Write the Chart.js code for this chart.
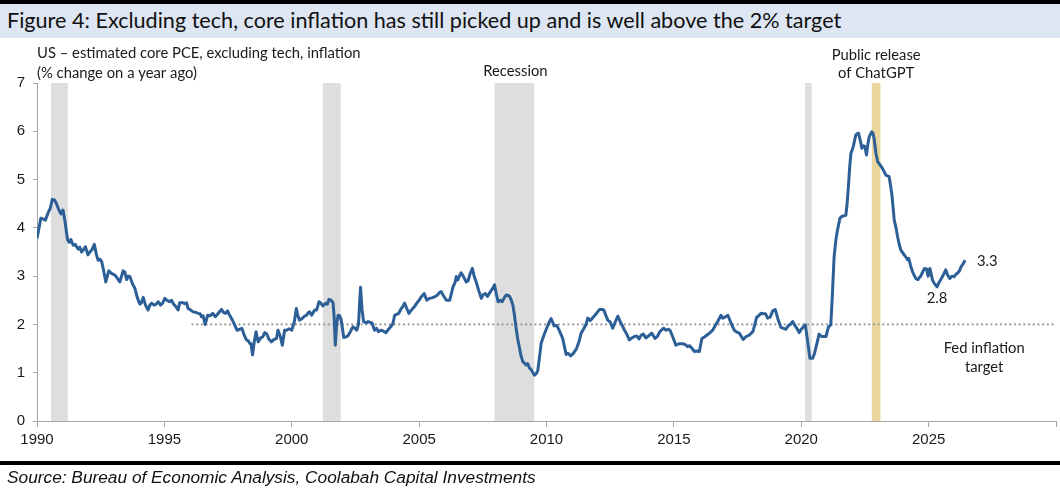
<!DOCTYPE html>
<html>
<head>
<meta charset="utf-8">
<script src="https://cdn.jsdelivr.net/npm/chart.js@4.4.1/dist/chart.umd.min.js"></script>
<style>
  html, body { margin: 0; padding: 0; background: #ffffff; }
  #wrap { position: relative; width: 1060px; height: 493px; overflow: hidden; background: #fff; }
  #topline { position: absolute; left: 0; top: 0; width: 1060px; height: 4px; background: #000; }
  #band { position: absolute; left: 0; top: 4px; width: 1060px; height: 34px; background: #dde6f2; }
  #title { position: absolute; left: 7px; top: 7px; font-family: Lato, "Open Sans", sans-serif; font-size: 21.6px; color: #111; white-space: nowrap; }
  #botline { position: absolute; left: 0; top: 461px; width: 1060px; height: 4px; background: #000; }
  #source { position: absolute; left: 7px; top: 467px; font-family: "Liberation Sans Narrow", "Liberation Sans", sans-serif; font-style: italic; font-size: 17.3px; color: #111; white-space: nowrap; }
  canvas { position: absolute; left: 0; top: 0; }
</style>
</head>
<body>
<div id="wrap">
  <div id="topline"></div>
  <div id="band"></div>
  <div id="title">Figure 4: Excluding tech, core inflation has still picked up and is well above the 2% target</div>
  <canvas id="c" width="1060" height="493"></canvas>
  <div id="botline"></div>
  <div id="source">Source: Bureau of Economic Analysis, Coolabah Capital Investments</div>
</div>
<script>
// ---------------- DATA ----------------
const dates = [
1990.00,1990.08,1990.15,1990.25,1990.33,1990.45,1990.52,1990.60,1990.68,1990.75,1990.86,1990.94,
1991.02,1991.10,1991.20,1991.27,1991.33,1991.42,1991.50,1991.55,1991.62,1991.68,1991.75,1991.83,1991.90,
1992.00,1992.08,1992.17,1992.25,1992.33,1992.40,1992.47,1992.54,1992.62,1992.70,1992.76,1992.82,1992.94,
1993.06,1993.15,1993.25,1993.32,1993.38,1993.45,1993.52,1993.58,1993.65,1993.74,1993.84,1993.94,
1994.04,1994.10,1994.17,1994.26,1994.36,1994.43,1994.50,1994.60,1994.68,1994.76,1994.85,1994.94,
1995.02,1995.10,1995.20,1995.28,1995.36,1995.45,1995.54,1995.60,1995.72,1995.80,1995.87,1995.93,
1996.03,1996.13,1996.23,1996.33,1996.40,1996.46,1996.52,1996.60,1996.70,1996.80,1996.90,
1997.00,1997.10,1997.24,1997.32,1997.40,1997.48,1997.55,1997.63,1997.75,1997.85,1997.96,
1998.04,1998.12,1998.22,1998.30,1998.35,1998.40,1998.46,1998.53,1998.60,1998.68,1998.78,1998.86,1998.94,
1999.02,1999.10,1999.20,1999.28,1999.40,1999.46,1999.55,1999.63,1999.72,1999.80,1999.90,
2000.00,2000.10,2000.18,2000.24,2000.30,2000.40,2000.50,2000.58,2000.64,2000.70,2000.78,2000.90,2000.98,
2001.07,2001.15,2001.22,2001.33,2001.40,2001.46,2001.55,2001.62,2001.66,2001.71,2001.76,2001.82,2001.88,2001.94,
2002.04,2002.12,2002.20,2002.30,2002.40,2002.48,2002.55,2002.62,2002.66,2002.70,2002.76,2002.82,2002.92,
2003.00,2003.08,2003.15,2003.25,2003.33,2003.40,2003.50,2003.60,2003.70,2003.80,2003.90,2003.97,
2004.04,2004.12,2004.20,2004.30,2004.36,2004.43,2004.50,2004.60,2004.70,2004.82,2004.92,
2005.00,2005.08,2005.20,2005.30,2005.40,2005.50,2005.60,2005.70,2005.80,2005.87,2005.95,
2006.07,2006.20,2006.27,2006.33,2006.40,2006.46,2006.52,2006.58,2006.65,2006.75,2006.85,2006.92,
2007.00,2007.09,2007.16,2007.24,2007.34,2007.44,2007.52,2007.60,2007.68,2007.80,2007.90,2007.96,
2008.04,2008.10,2008.18,2008.26,2008.35,2008.42,2008.50,2008.55,2008.62,2008.68,2008.74,2008.80,2008.87,2008.94,
2009.00,2009.07,2009.13,2009.20,2009.26,2009.33,2009.40,2009.47,2009.53,2009.60,2009.66,2009.72,2009.79,2009.88,2009.99,
2010.08,2010.18,2010.24,2010.30,2010.40,2010.50,2010.58,2010.64,2010.70,2010.77,2010.85,2010.95,
2011.05,2011.18,2011.28,2011.36,2011.45,2011.55,2011.62,2011.72,2011.85,2011.95,
2012.08,2012.18,2012.25,2012.32,2012.40,2012.50,2012.60,2012.70,2012.80,2012.90,
2013.00,2013.06,2013.15,2013.25,2013.35,2013.45,2013.55,2013.63,2013.72,2013.80,2013.90,
2014.00,2014.13,2014.26,2014.35,2014.45,2014.55,2014.60,2014.70,2014.78,2014.85,2014.95,
2015.08,2015.20,2015.35,2015.45,2015.54,2015.62,2015.72,2015.80,2015.90,
2016.00,2016.10,2016.20,2016.30,2016.40,2016.52,2016.60,2016.72,2016.85,2016.92,
2017.00,2017.12,2017.25,2017.37,2017.47,2017.57,2017.65,2017.72,2017.84,2017.96,
2018.10,2018.18,2018.25,2018.33,2018.42,2018.50,2018.60,2018.68,2018.78,2018.88,2018.98,
2019.08,2019.20,2019.30,2019.40,2019.50,2019.58,2019.66,2019.75,2019.85,2019.92,
2020.00,2020.08,2020.16,2020.25,2020.34,2020.45,2020.52,2020.62,2020.70,2020.80,2020.90,2020.97,
2021.07,2021.16,2021.22,2021.29,2021.36,2021.42,2021.52,2021.60,2021.75,2021.80,2021.85,2021.90,2021.95,
2022.04,2022.14,2022.20,2022.25,2022.32,2022.38,2022.45,2022.50,2022.56,2022.62,2022.67,2022.77,2022.82,2022.86,2022.93,
2023.00,2023.10,2023.19,2023.27,2023.32,2023.45,2023.50,2023.56,2023.60,2023.65,2023.72,2023.78,2023.85,2023.91,
2024.00,2024.04,2024.10,2024.17,2024.22,2024.30,2024.37,2024.45,2024.50,2024.58,2024.65,2024.69,2024.76,2024.84,2024.92,2024.98,
2025.05,2025.10,2025.15,2025.22,2025.33,2025.42,2025.50,2025.60,2025.67,2025.75,2025.83,2025.92,
2026.00,2026.06,2026.13,2026.20,2026.27,2026.35,2026.43
];
const corePceExTech = [
3.78,4.00,4.20,4.18,4.16,4.33,4.40,4.59,4.58,4.52,4.37,4.29,
4.37,4.13,3.75,3.70,3.76,3.64,3.66,3.61,3.56,3.60,3.50,3.55,3.61,
3.44,3.50,3.56,3.66,3.45,3.33,3.35,3.30,3.10,2.88,3.00,3.11,3.05,
3.02,2.96,2.88,3.00,3.11,3.08,2.93,3.00,2.99,2.85,2.75,2.55,
2.42,2.45,2.56,2.40,2.30,2.40,2.44,2.40,2.42,2.47,2.40,2.45,
2.54,2.50,2.47,2.50,2.42,2.37,2.30,2.45,2.45,2.43,2.45,2.33,
2.30,2.26,2.25,2.23,2.22,2.16,2.18,2.00,2.19,2.18,2.23,
2.16,2.22,2.31,2.25,2.23,2.28,2.20,2.13,2.00,1.88,1.90,
1.92,1.80,1.68,1.66,1.61,1.60,1.37,1.65,1.85,1.64,1.72,1.74,1.83,
1.80,1.70,1.64,1.68,1.71,1.88,1.75,1.57,1.88,1.88,1.91,
1.88,2.05,2.33,2.18,2.09,2.12,2.17,2.19,2.24,2.26,2.19,2.30,2.30,
2.47,2.44,2.38,2.44,2.42,2.52,2.50,2.45,2.20,1.57,2.00,2.19,2.18,2.10,
1.73,1.74,1.76,1.85,1.95,1.92,1.88,2.00,2.40,2.77,2.30,2.06,2.03,
2.06,2.04,2.03,1.88,1.92,1.85,1.88,1.86,1.83,1.90,1.96,2.02,
2.19,2.21,2.23,2.33,2.37,2.44,2.35,2.23,2.30,2.37,2.45,
2.50,2.57,2.64,2.50,2.54,2.55,2.57,2.60,2.66,2.68,2.60,
2.50,2.50,2.65,2.78,2.85,2.99,2.92,3.00,3.07,2.98,2.88,2.90,
3.05,3.16,3.00,2.88,2.70,2.54,2.62,2.64,2.58,2.68,2.76,2.82,
2.60,2.47,2.50,2.47,2.56,2.61,2.60,2.58,2.50,2.40,2.20,1.95,1.70,1.51,
1.35,1.23,1.20,1.16,1.19,1.10,1.06,1.00,0.95,0.98,1.05,1.30,1.61,1.75,1.90,
2.02,2.12,2.05,1.97,1.98,1.88,1.78,1.70,1.55,1.38,1.40,1.35,
1.40,1.50,1.65,1.82,1.90,2.00,2.13,2.08,2.16,2.22,
2.31,2.31,2.30,2.20,2.09,2.05,1.92,2.05,2.17,2.05,
1.95,1.88,1.80,1.68,1.72,1.75,1.76,1.70,1.78,1.80,1.72,
1.76,1.82,1.71,1.75,1.85,1.90,1.92,1.88,1.90,1.88,1.75,
1.57,1.60,1.60,1.58,1.54,1.56,1.50,1.44,1.45,
1.44,1.71,1.74,1.78,1.82,1.88,1.95,2.06,2.19,2.13,
2.15,2.19,2.02,1.88,1.84,1.82,1.75,1.69,1.75,1.78,
1.85,2.00,2.15,2.18,2.23,2.22,2.22,2.13,2.15,2.28,2.31,
2.12,1.94,1.92,1.90,1.98,2.00,2.06,1.98,1.90,1.83,
1.90,1.95,1.99,1.65,1.30,1.30,1.40,1.62,1.80,1.75,1.75,1.75,
1.95,1.99,2.60,3.40,3.75,3.95,4.20,4.24,4.26,4.50,4.85,5.25,5.54,
5.68,5.92,5.95,5.96,5.80,5.65,5.70,5.68,5.51,5.75,5.89,5.99,5.95,5.85,5.55,
5.37,5.30,5.23,5.15,5.09,5.06,4.90,4.68,4.45,4.16,4.00,3.82,3.65,3.54,
3.47,3.44,3.40,3.34,3.37,3.20,3.09,3.00,2.95,2.93,2.98,3.00,3.08,3.16,3.15,3.00,
3.16,3.05,2.92,2.85,2.78,2.88,2.95,3.05,3.13,3.02,2.95,3.00,
2.99,3.03,3.06,3.10,3.19,3.25,3.33
];
const recessions = [[1990.55, 1991.21], [2001.22, 2001.92], [2007.96, 2009.52], [2020.15, 2020.41]];
const chatgptRelease = [2022.77, 2023.11];
const fedTarget = 2;
const fedTargetStart = 1996.1;
const xTickYears = [1990, 1995, 2000, 2005, 2010, 2015, 2020, 2025, 2030];
const yTicks = [0, 1, 2, 3, 4, 5, 6, 7];
const lastLabel = "3.3";
const lowLabel = "2.8";

// ---------------- STYLE ----------------
const LINE_COLOR = '#2d5f97';
const RECESSION_COLOR = '#dedede';
const CHATGPT_COLOR = '#ead59c';
const AXIS_COLOR = '#a6a6a6';
const TEXT_COLOR = '#1a1a1a';
const ANNOT_FONT = '14.8px Lato, "Open Sans", sans-serif';

const seriesPts = dates.map((d, i) => ({ x: d, y: corePceExTech[i] }));
const targetPts = [{ x: fedTargetStart, y: fedTarget }, { x: xTickYears[xTickYears.length - 1], y: fedTarget }];

const bandsPlugin = {
  id: 'bands',
  beforeDraw(chart) {
    const { ctx, chartArea, scales } = chart;
    const xs = scales.x;
    ctx.save();
    ctx.fillStyle = RECESSION_COLOR;
    recessions.forEach(([a, b]) => {
      const x1 = xs.getPixelForValue(a), x2 = xs.getPixelForValue(b);
      ctx.fillRect(x1, chartArea.top, x2 - x1, chartArea.bottom - chartArea.top);
    });
    ctx.fillStyle = CHATGPT_COLOR;
    const c1 = xs.getPixelForValue(chatgptRelease[0]), c2 = xs.getPixelForValue(chatgptRelease[1]);
    ctx.fillRect(c1, chartArea.top, c2 - c1, chartArea.bottom - chartArea.top);
    ctx.restore();
  }
};

const annotations = [
  { text: 'US \u2013 estimated core PCE, excluding tech, inflation', x: 1990.0, y: 7.62, align: 'left' },
  { text: '(% change on a year ago)', x: 1990.0, y: 7.21, align: 'left' },
  { text: 'Recession', x: 2008.78, y: 7.25, align: 'center' },
  { text: 'Public release', x: 2022.94, y: 7.58, align: 'center' },
  { text: 'of ChatGPT', x: 2022.94, y: 7.2, align: 'center' },
  { text: lastLabel, x: 2026.9, y: 3.31, align: 'left' },
  { text: lowLabel, x: 2025.33, y: 2.55, align: 'center' },
  { text: 'Fed inflation', x: 2027.18, y: 1.51, align: 'center' },
  { text: 'target', x: 2027.18, y: 1.12, align: 'center' }
];

const textPlugin = {
  id: 'texts',
  afterDraw(chart) {
    const { ctx, scales } = chart;
    ctx.save();
    ctx.font = ANNOT_FONT;
    ctx.fillStyle = TEXT_COLOR;
    ctx.textBaseline = 'middle';
    annotations.forEach(a => {
      ctx.textAlign = a.align;
      ctx.fillText(a.text, scales.x.getPixelForValue(a.x), scales.y.getPixelForValue(a.y));
    });
    ctx.restore();
  }
};

new Chart(document.getElementById('c'), {
  type: 'line',
  data: {
    datasets: [
      {
        label: 'Core PCE ex tech',
        data: seriesPts,
        borderColor: LINE_COLOR,
        borderWidth: 3,
        pointRadius: 0,
        tension: 0,
        fill: false,
        borderJoinStyle: 'round',
        order: 1
      },
      {
        label: 'Fed target',
        data: targetPts,
        borderColor: '#9c9c9c',
        borderWidth: 2.2,
        borderDash: [0.1, 4.6],
        borderCapStyle: 'round',
        pointRadius: 0,
        fill: false,
        order: 2
      }
    ]
  },
  options: {
    responsive: false,
    animation: false,
    events: [],
    layout: { padding: { top: 83, left: 0, right: 2, bottom: 42 } },
    plugins: { legend: { display: false }, tooltip: { enabled: false }, title: { display: false } },
    scales: {
      x: {
        type: 'linear',
        min: 1990, max: 2030,
        afterBuildTicks(scale) { scale.ticks = xTickYears.map(v => ({ value: v })); },
        afterFit(scale) { scale.height = 30; },
        ticks: {
          autoSkip: false, maxRotation: 0,
          padding: 4,
          color: TEXT_COLOR,
          font: { family: '"Liberation Sans Narrow", "Liberation Sans", sans-serif', size: 15 },
          callback: (v) => (v === 2030 ? '' : String(v))
        },
        grid: { display: true, drawOnChartArea: false, drawTicks: true, tickLength: 6, color: AXIS_COLOR },
        border: { display: true, color: AXIS_COLOR, width: 1 }
      },
      y: {
        type: 'linear',
        min: 0, max: 7,
        afterBuildTicks(scale) { scale.ticks = yTicks.map(v => ({ value: v })); },
        afterFit(scale) { scale.width = 37; },
        ticks: {
          padding: 8,
          color: TEXT_COLOR,
          font: { family: '"Liberation Sans Narrow", "Liberation Sans", sans-serif', size: 15 }
        },
        grid: { display: true, drawOnChartArea: false, drawTicks: true, tickLength: 4, color: AXIS_COLOR },
        border: { display: true, color: AXIS_COLOR, width: 1 }
      }
    }
  },
  plugins: [bandsPlugin, textPlugin]
});
</script>
</body>
</html>
